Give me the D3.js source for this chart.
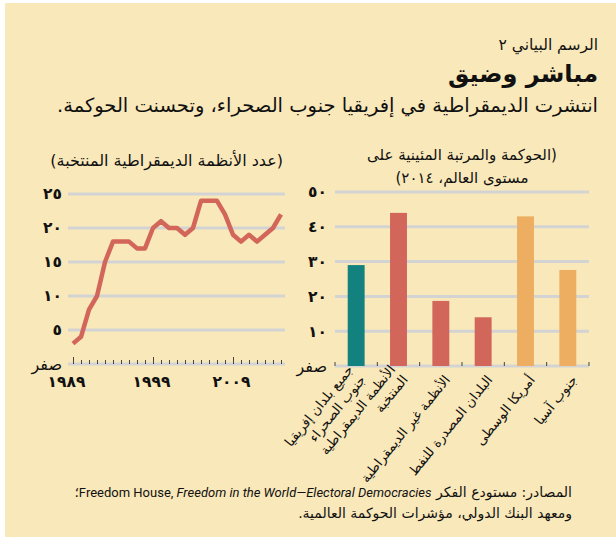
<!DOCTYPE html>
<html>
<head>
<meta charset="utf-8">
<script src="https://cdn.jsdelivr.net/npm/d3@7"></script>
<style>
  body { margin: 0; background: #fff; }
  svg { display: block; }
  text { font-family: "DejaVu Sans", sans-serif; fill: #111; }
</style>
</head>
<body>
<svg width="616" height="537"></svg>
<script>
// left chart: number of electoral democracies
const years = [1989, 1990, 1991, 1992, 1993, 1994, 1995, 1996, 1997, 1998, 1999, 2000, 2001,
  2002, 2003, 2004, 2005, 2006, 2007, 2008, 2009, 2010, 2011, 2012, 2013, 2014, 2015]
const democracies = [3, 4, 8, 10, 15, 18, 18, 18, 17, 17, 20, 21, 20,
  20, 19, 20, 24, 24, 24, 22, 19, 18, 19, 18, 19, 20, 22]
const yearLabels = [1989, 1999, 2009]
const leftTicks = [0, 5, 10, 15, 20, 25]

// right chart: governance percentile rank, 2014
const groups = [
  ['جميع بلدان إفريقيا', 'جنوب الصحراء'],
  ['الأنظمة الديمقراطية', 'المنتخبة'],
  ['الأنظمة غير الديمقراطية'],
  ['البلدان المصدرة للنفط'],
  ['أمريكا الوسطى'],
  ['جنوب آسيا']
]
const governance = [29, 44, 18.7, 14, 43, 27.6]
const barColors = ['#13827f', '#d2665a', '#d2665a', '#d2665a', '#edae62', '#edae62']
const rightTicks = [0, 10, 20, 30, 40, 50]

const arDigits = '٠١٢٣٤٥٦٧٨٩'
const toArabic = n => n === 0 ? 'صفر' : String(n).replace(/\d/g, d => arDigits[d])

const svg = d3.select('svg')

svg.append('rect')
  .attr('x', 5).attr('y', 3)
  .attr('width', 611).attr('height', 534)
  .attr('fill', '#f9e8ba')

// header
const header = svg.append('g').attr('direction', 'rtl')
header.append('text')
  .attr('x', 598).attr('y', 50)
  .attr('font-size', 15.5)
  .text('الرسم البياني ٢')
header.append('text')
  .attr('x', 598).attr('y', 82)
  .attr('font-size', 24).attr('font-weight', 'bold')
  .text('مباشر وضيق')
header.append('text')
  .attr('x', 598).attr('y', 112)
  .attr('font-size', 19.5)
  .text('انتشرت الديمقراطية في إفريقيا جنوب الصحراء، وتحسنت الحوكمة.')

// ---- left chart
const xL = d3.scaleLinear().domain([1989, 2015]).range([73, 281])
const yL = d3.scaleLinear().domain([0, 25]).range([364, 194])

const left = svg.append('g')

left.append('text')
  .attr('direction', 'rtl')
  .attr('x', 283).attr('y', 166)
  .attr('font-size', 16)
  .text('(عدد الأنظمة الديمقراطية المنتخبة)')

left.selectAll('.grid').data(leftTicks)
  .enter().append('line')
    .attr('x1', 68).attr('x2', 285)
    .attr('y1', d => yL(d)).attr('y2', d => yL(d))
    .attr('stroke', '#d3d3d3').attr('stroke-width', 3)

left.append('g')
  .attr('transform', 'translate(68,0)')
  .call(d3.axisLeft(yL).tickValues(leftTicks).tickSize(0).tickPadding(6).tickFormat(toArabic))
  .call(g => g.select('.domain').remove())
  .selectAll('text')
    .attr('font-size', d => d === 0 ? 16 : 15.5)
    .attr('font-weight', d => d === 0 ? 'normal' : 'bold')
    .attr('font-family', '"DejaVu Sans", sans-serif')
    .attr('fill', '#111')

left.append('g')
  .attr('transform', `translate(0,${yL(0)})`)
  .call(d3.axisBottom(xL).tickValues(years).tickSize(-4).tickPadding(12)
    .tickFormat(d => yearLabels.includes(d) ? toArabic(d) : ''))
  .call(g => g.select('.domain').remove())
  .call(g => g.selectAll('.tick line')
    .attr('stroke', '#444')
    .attr('y2', d => yearLabels.includes(d) ? -7 : -4))
  .selectAll('text')
    .attr('dx', d => d === 1989 ? -7 : -2)
    .attr('font-size', 15.5).attr('font-weight', 'bold')
    .attr('font-family', '"DejaVu Sans", sans-serif')
    .attr('fill', '#111')

const line = d3.line()
  .x((d, i) => xL(years[i]))
  .y(d => yL(d))

left.append('path')
  .datum(democracies)
  .attr('d', line)
  .attr('fill', 'none')
  .attr('stroke', '#d2665a')
  .attr('stroke-width', 4.5)
  .attr('stroke-linejoin', 'round')

// ---- right chart
const xR = d3.scaleBand().domain(d3.range(groups.length)).range([335, 589])
  .paddingInner(0.6).paddingOuter(0.3)
const yR = d3.scaleLinear().domain([0, 50]).range([366, 192])

const right = svg.append('g')

right.append('text')
  .attr('direction', 'rtl')
  .attr('text-anchor', 'middle')
  .attr('font-size', 15)
  .selectAll('tspan')
  .data(['(الحوكمة والمرتبة المئينية على', 'مستوى العالم، ٢٠١٤)'])
  .enter().append('tspan')
    .attr('x', 462)
    .attr('y', (d, i) => 160 + i * 23)
    .text(d => d)

right.selectAll('.grid').data(rightTicks)
  .enter().append('line')
    .attr('x1', 335).attr('x2', 589)
    .attr('y1', d => yR(d)).attr('y2', d => yR(d))
    .attr('stroke', '#d3d3d3').attr('stroke-width', 3)

right.append('g')
  .attr('transform', 'translate(335,0)')
  .call(d3.axisLeft(yR).tickValues(rightTicks).tickSize(0).tickPadding(8).tickFormat(toArabic))
  .call(g => g.select('.domain').remove())
  .selectAll('text')
    .attr('font-size', d => d === 0 ? 16 : 15.5)
    .attr('font-weight', d => d === 0 ? 'normal' : 'bold')
    .attr('font-family', '"DejaVu Sans", sans-serif')
    .attr('fill', '#111')

right.selectAll('.bar').data(governance)
  .enter().append('rect')
    .attr('x', (d, i) => xR(i))
    .attr('width', xR.bandwidth())
    .attr('y', d => yR(d))
    .attr('height', d => yR(0) - yR(d))
    .attr('fill', (d, i) => barColors[i])

// ticks at band edges
right.selectAll('.edge').data(d3.range(groups.length + 1))
  .enter().append('line')
    .attr('x1', i => 335 + i * xR.step()).attr('x2', i => 335 + i * xR.step())
    .attr('y1', yR(0)).attr('y2', yR(0) - 4)
    .attr('stroke', '#444')

const labels = right.selectAll('.lab').data(groups)
  .enter().append('text')
    .attr('transform', (d, i) => `translate(${xR(i) + xR.bandwidth() / 2 + 10},${yR(0) + 14}) rotate(-51)`)
    .attr('text-anchor', 'end')
    .attr('font-size', 13.3)

labels.selectAll('tspan')
  .data(d => d.map((t, j) => ({ t, dy: (j - (d.length - 1)) * 16 })))
  .enter().append('tspan')
    .attr('x', 0)
    .attr('y', d => d.dy)
    .text(d => d.t)

// footer
const foot = svg.append('text')
  .attr('direction', 'rtl')
  .attr('x', 572).attr('y', 497)
  .attr('font-size', 14)
foot.append('tspan').text('المصادر: مستودع الفكر ')
foot.append('tspan')
  .attr('font-family', '"Liberation Sans Narrow", Roboto, sans-serif')
  .attr('font-size', 13)
  .text('Freedom House, ')
foot.append('tspan')
  .attr('font-family', '"Liberation Sans Narrow", Roboto, sans-serif')
  .attr('font-size', 13)
  .attr('font-style', 'italic')
  .text('Freedom in the World—Electoral Democracies')
foot.append('tspan').text('؛')

svg.append('text')
  .attr('direction', 'rtl')
  .attr('x', 572).attr('y', 518)
  .attr('font-size', 14)
  .text('ومعهد البنك الدولي، مؤشرات الحوكمة العالمية.')
</script>
</body>
</html>
